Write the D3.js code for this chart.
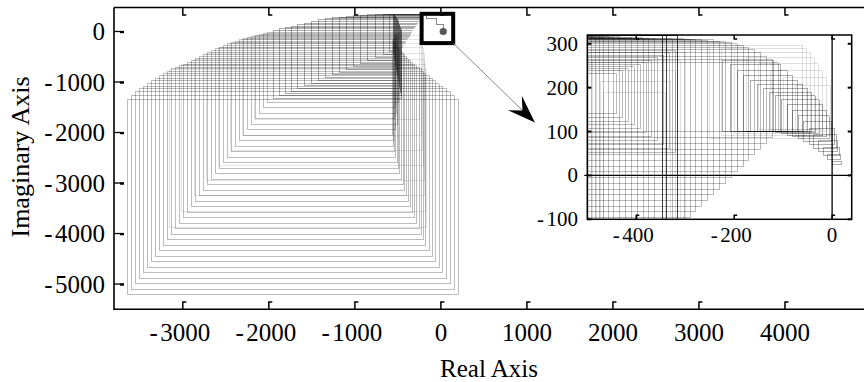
<!DOCTYPE html>
<html><head><meta charset="utf-8">
<script src="https://cdn.jsdelivr.net/npm/d3@7"></script>
<style>
body{margin:0;background:#fff;}
text{font-family:"Liberation Serif","Times New Roman",serif;fill:#000;}
</style></head><body>
<svg id="chart" width="864" height="382"></svg>
<script>
// ---------------- data ----------------
const mainXTicks = [-3000,-2000,-1000,0,1000,2000,3000,4000];
const mainYTicks = [0,-1000,-2000,-3000,-4000,-5000];
const insetXTicks = [-400,-200,0];
const insetYTicks = [300,200,100,0,-100];
const xTitle = "Real Axis";
const yTitle = "Imaginary Axis";

// main plot: outer family of frames (top-left on the arc)
const aXL = [-3648,-3600,-3552,-3506,-3459,-3413,-3366,-3320,-3273,-3227,-3180,-3134,-3087,-3041,-2994,-2948,-2901,-2855,-2808,-2762,-2715,-2669,-2622,-2576,-2529,-2483,-2436,-2390,-2343,-2297,-2250,-2204,-2157,-2111,-2064,-2018];
const aYA = [-1352,-1259,-1184,-1131,-1087,-1034,-980,-929,-877,-832,-786,-741,-707,-673,-644,-608,-572,-535,-499,-459,-420,-380,-341,-309,-279,-246,-220,-194,-168,-143,-115,-91,-71,-51,-32,-12];
const aYB = [-5214,-5100,-4990,-4885,-4775,-4668,-4560,-4450,-4345,-4232,-4128,-4015,-3908,-3800,-3688,-3582,-3470,-3365,-3252,-3146,-3035,-2928,-2816,-2710,-2598,-2493,-2380,-2275,-2163,-2057,-1945,-1840,-1727,-1622,-1510,-1404];
const aXR = [209,163,116,66,20,-20,-58,-97,-131,-174,-198,-224,-252,-283,-306,-329,-352,-380,-399,-419,-438,-457,-477,-488,-508,-523,-535,-547,-552,-558,-523,-500,-541,-512,-529,-488];
const aXT = [209,163,116,66,20,-20,-58,-97,-131,-174,-198,-224,-252,-283,-306,-329,-352,-380,-399,-419,-438,-457,-455,-443,-433,-420,-410,-401,-392,-383,-372,-364,-357,-349,-342,-335];

// main plot: inner family (upper part of the arc)
const bXL = [-1942,-1872,-1802,-1733,-1663,-1581,-1500,-1419,-1337,-1256,-1174,-1093,-1012,-930,-849,-756,-663,-593];
const bYA = [14,50,79,107,133,164,194,230,259,275,283,297,311,325,331,333,337,341];
const bYB = [-1325,-1277,-1230,-1182,-1135,-1079,-1024,-968,-913,-857,-802,-747,-691,-636,-580,-517,-453,-402];
const bXR = [-453,-459,-465,-471,-477,-483,-488,-494,-500,-506,-512,-517,-523,-529,-535,-541,-547,-552];
const bXT = [-326,-313,-301,-292,-283,-271,-259,-247,-236,-230,-227,-222,-217,-212,-210,-209,-208,-207];

// main plot: light family
const lXL = [-3150,-3010,-2870,-2730,-2590,-2450,-2310,-2170];
const lYA = [-756,-655,-548,-430,-320,-228,-150,-80];
const lXR = [-165,-175,-185,-195,-205,-215,-230,-245];
const lYB = [-3880,-3560,-3250,-2950,-2650,-2350,-2050,-1750];

// tail near the origin and end point
const tailX = [-244,-166,-50,27];
const tailY = [331,265,133,0];
const endPoint = [27,0];
const zoomBox = {x0:-224, x1:143, y0:-230, y1:350};
const arrowTip = [1093,-1802];

// inset: frames coming from the left (grid part)
const g1XR = [-492,-484,-476,-466,-456,-446,-434,-422,-410,-398,-386,-374,-362,-347,-338,-326,-315,-302,-290,-278,-266,-254,-242,-230,-218,-206,-194,-182,-170,-158,-146,-134,-122,-110];
const g1YA = [318,316,318,315,317,314,316,313,315,312,314,311,313,318,318,312,318,311,310,309,310,308,309,306,305,303,300,297,292,286,280,272,265,257];
const g1YB = [-150,-150,-150,-150,-150,-150,-150,-150,-150,-150,-150,-150,-150,-150,-150,-150,-150,-150,-96,-83,-70,-57,-44,-31,-18,-5,8,21,34,47,60,73,86,99];
const g1Dark = [0,0,0,0,0,0,0,0,0,0,0,0,0,1,1,0,1,0,0,0,0,0,0,0,0,0,0,0,0,0,0,0,0,0];
const g1XL = -620;
// inset: nested frames in the upper-left part
const g3XR = [-440,-428,-416,-404,-392,-380,-368,-356,-344,-332,-320];
const g3YA = [232,238,243,248,253,258,263,268,273,279,285];
const g3YB = [142,133,124,115,106,97,88,79,70,61,52];
// inset: light frames at the left edge
const g4XL = [-497,-490,-482,-474,-466];
const g4YA = [280,262,240,215,190];
const g4XR = [-300,-310,-320,-330,-340];
// inset: hump frames
const g2XL = [-224,-208,-194,-180,-166,-152,-140,-128,-116,-104,-92,-80,-69,-58,-47,-37,-27,-18,-9,0];
const g2YA = [262,253,239,227,217,207,197,189,181,173,162,148,136,122,108,94,80,64,48,32];
const g2XR = [-120,-105,-92,-80,-70,-60,-50,-42,-34,-26,-19,-12,-6,-1,4,8,12,15,18,20];
const g2YB = [100,100,100,100,100,100,100,99,97,95,92,88,83,77,70,62,54,45,36,26];
// inset: light frames along the hump
const g5XL = [-250,-225,-200,-175,-150,-125,-100,-75];
const g5YA = [296,290,280,268,255,240,224,205];
const g5XR = [-60,-52,-44,-36,-28,-20,-12,-4];
const g5YB = [84,90,96,101,104,104,100,92];

// ---------------- drawing ----------------
const svg = d3.select("#chart");
const W = 864;
const x = d3.scaleLinear().domain([-3800,5000]).range([114,871]);
const y = d3.scaleLinear().domain([-5500,475]).range([309.3,7.5]);
const xi = d3.scaleLinear().domain([-500,40]).range([587.3,851.7]);
const yi = d3.scaleLinear().domain([-100,320]).range([219.3,35]);
function label(sel) {
  sel.each(function(v) {
    const t = d3.select(this);
    if (v < 0) { t.append("tspan").text("-"); t.append("tspan").attr("dx",2.5).text(Math.abs(v)); }
    else t.text(v);
  });
}

const defs = svg.append("defs");
defs.append("clipPath").attr("id","cm").append("rect")
  .attr("x",114).attr("y",7.5).attr("width",W-114).attr("height",309.3-7.5);
defs.append("clipPath").attr("id","ci").append("rect")
  .attr("x",xi(-500)).attr("y",yi(320)).attr("width",xi(40)-xi(-500)).attr("height",yi(-100)-yi(320));

function fp(sx, sy, xl, ya, xr, yb, xt) {
  return `M${sx(xt)},${sy(ya)}H${sx(xl)}V${sy(yb)}H${sx(xr)}V${sy(ya)}`;
}
function frames(g, cls, n, sx, sy, f, op) {
  g.selectAll("path."+cls).data(d3.range(n)).join("path").attr("class",cls)
    .attr("d", i => { const r = f(i); return fp(sx,sy,r[0],r[1],r[2],r[3],r[4]); })
    .attr("stroke","#000").attr("stroke-opacity", op);
}

const gm = svg.append("g").attr("clip-path","url(#cm)")
  .attr("fill","none").attr("shape-rendering","crispEdges");
frames(gm,"l",lXL.length,x,y,i=>[lXL[i],lYA[i],lXR[i],lYB[i],lXR[i]],0.11);
frames(gm,"a",aXL.length,x,y,i=>[aXL[i],aYA[i],aXR[i],aYB[i],aXT[i]],0.26);
frames(gm,"b",bXL.length,x,y,i=>[bXL[i],bYA[i],bXR[i],bYB[i],bXT[i]],0.33);

gm.append("path")
  .attr("d", d3.line().x(d=>x(d[0])).y(d=>y(d[1])).curve(d3.curveStepAfter)(tailX.map((v,i)=>[v,tailY[i]])))
  .attr("stroke","#888");
svg.append("circle").attr("cx",x(endPoint[0])).attr("cy",y(endPoint[1])).attr("r",3.6).attr("fill","#555");

// zoom box
svg.append("rect").attr("x",x(zoomBox.x0)).attr("y",y(zoomBox.y1))
  .attr("width",x(zoomBox.x1)-x(zoomBox.x0)).attr("height",y(zoomBox.y0)-y(zoomBox.y1))
  .attr("fill","none").attr("stroke","#000").attr("stroke-width",4);

// arrow
{
  const sx0 = x(zoomBox.x1), sy0 = y(zoomBox.y0), tx = x(arrowTip[0]), ty = y(arrowTip[1]);
  const dx = tx-sx0, dy = ty-sy0, len = Math.hypot(dx,dy), ux = dx/len, uy = dy/len, nx = -uy, ny = ux;
  const L = 28, w = 10;
  svg.append("line").attr("x1",sx0).attr("y1",sy0).attr("x2",tx-ux*L*0.6).attr("y2",ty-uy*L*0.6)
    .attr("stroke","#888").attr("stroke-width",1);
  const pts = [[tx,ty],[tx-ux*L+nx*w,ty-uy*L+ny*w],[tx-ux*L*0.62,ty-uy*L*0.62],[tx-ux*L-nx*w,ty-uy*L-ny*w]];
  svg.append("polygon").attr("points",pts.map(p=>p.join(",")).join(" ")).attr("fill","#000");
}

// main axes
const ax = svg.append("g").attr("stroke","#000").attr("fill","none");
ax.append("path").attr("d",`M114,7.5V309.3H${W}`).attr("stroke-width",1.6);
ax.append("path").attr("d",`M114,7.5H${W}`).attr("stroke-width",1.6);
mainXTicks.forEach(v => {
  ax.append("path").attr("d",`M${x(v)},309.3V302H${x(v)+3.5}`).attr("stroke-width",1.5);
  ax.append("path").attr("d",`M${x(v)},7.5V15H${x(v)+3.5}`).attr("stroke-width",1.5);
});
mainYTicks.forEach(v => {
  ax.append("path").attr("d",`M114,${y(v)}H124`).attr("stroke-width",1.3);
  ax.append("path").attr("d",`M120,${y(v)+0.6}H124`).attr("stroke-width",2.2);
});
svg.append("g").selectAll("text").data(mainXTicks).join("text")
  .attr("x", v => x(v) + (v<0?-3:0)).attr("y",341).attr("text-anchor","middle")
  .attr("font-size",25).call(label);
svg.append("g").selectAll("text").data(mainYTicks).join("text")
  .attr("x",105).attr("y", v => y(v)+8.5).attr("text-anchor","end")
  .attr("font-size",25).call(label);
svg.append("text").attr("x",489).attr("y",377).attr("text-anchor","middle").attr("font-size",25).text(xTitle);
svg.append("text").attr("transform","translate(29,157) rotate(-90)").attr("text-anchor","middle").attr("font-size",26).text(yTitle);

// ---------------- inset ----------------
const gi = svg.append("g");
gi.append("rect").attr("x",xi(-500)).attr("y",yi(320)).attr("width",xi(40)-xi(-500)).attr("height",yi(-100)-yi(320)).attr("fill","#fff");
const gic = gi.append("g").attr("clip-path","url(#ci)").attr("fill","none").attr("shape-rendering","crispEdges");
frames(gic,"g4",g4XL.length,xi,yi,i=>[g4XL[i],g4YA[i],g4XR[i],-150,g4XR[i]],0.12);
frames(gic,"g5",g5XL.length,xi,yi,i=>[g5XL[i],g5YA[i],g5XR[i],g5YB[i],g5XR[i]],0.12);
frames(gic,"g1",g1XR.length,xi,yi,i=>[g1XL,g1YA[i],g1XR[i],g1YB[i],g1XR[i]],0.27);
gic.selectAll("path.g1").filter(i => g1Dark[i]).attr("stroke-opacity",0.75);
frames(gic,"g3",g3XR.length,xi,yi,i=>[g1XL,g3YA[i],g3XR[i],g3YB[i],g3XR[i]],0.27);
frames(gic,"g2",g2XL.length,xi,yi,i=>[g2XL[i],g2YA[i],g2XR[i],g2YB[i],g2XR[i]],0.32);

const ia = gi.append("g").attr("stroke","#000").attr("fill","none");
ia.append("rect").attr("x",xi(-500)).attr("y",yi(320)).attr("width",xi(40)-xi(-500)).attr("height",yi(-100)-yi(320)).attr("stroke-width",1.5);
ia.append("path").attr("d",`M${xi(-500)-3},${yi(0)}H${xi(40)}`).attr("stroke-width",1.3);
ia.append("path").attr("d",`M${xi(0)},${yi(320)}V${yi(-100)}`).attr("stroke-width",1.3);
insetXTicks.forEach(v => {
  ia.append("path").attr("d",`M${xi(v)},${yi(-100)}V${yi(-100)-4}H${xi(v)+3}`).attr("stroke-width",1.5);
  ia.append("path").attr("d",`M${xi(v)},${yi(320)}V${yi(320)+4}H${xi(v)+3}`).attr("stroke-width",1.5);
});
insetYTicks.forEach(v => {
  ia.append("path").attr("d",`M${xi(-500)},${yi(v)}H${xi(-500)+4}`).attr("stroke-width",2);
  ia.append("path").attr("d",`M${xi(40)},${yi(v)}H${xi(40)-4}`).attr("stroke-width",2);
});
gi.append("g").selectAll("text").data(insetXTicks).join("text")
  .attr("x", v => xi(v) + (v<0?-3:0)).attr("y",241.5).attr("text-anchor","middle")
  .attr("font-size",21).call(label);
gi.append("g").selectAll("text").data(insetYTicks).join("text")
  .attr("x",578).attr("y", v => yi(v)+7).attr("text-anchor","end")
  .attr("font-size",21).call(label);
</script>
</body></html>
